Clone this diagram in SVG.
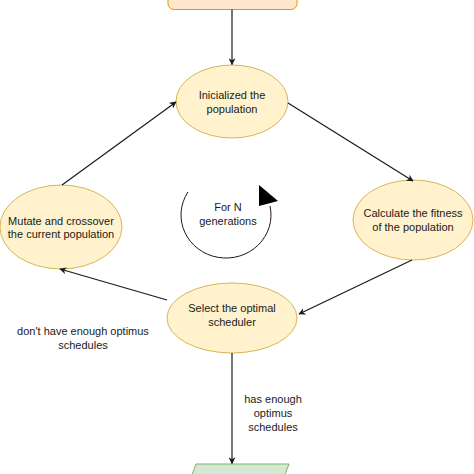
<svg xmlns="http://www.w3.org/2000/svg" width="474" height="474" viewBox="0 0 474 474">
<style>
.ell{fill:#fff2cc;stroke:#d6b656;stroke-width:1}
.t{font-family:"Liberation Sans",Arial,sans-serif;font-size:11px;fill:#1a1a1a;text-anchor:middle}
.c{fill:none;stroke:#1a1a1a;stroke-width:1.2}
</style>
<defs>
<marker id="ah" viewBox="0 0 10 10" refX="9" refY="5" markerWidth="7" markerHeight="7" orient="auto" markerUnits="userSpaceOnUse">
<path d="M0,0 L10,5 L0,10 L3,5 Z" fill="#1a1a1a"/>
</marker>
</defs>
<rect width="474" height="474" fill="#ffffff"/>
<g id="start"><rect x="168" y="-10" width="129" height="19.5" rx="6" fill="#ffe6cc" stroke="#d79b00"/></g>
<g id="init"><ellipse class="ell" cx="232" cy="101.5" rx="56" ry="36.5"/><text class="t" x="232" y="99">Inicialized the</text><text class="t" x="232" y="113">population</text></g>
<g id="calc"><ellipse class="ell" cx="413" cy="220" rx="60" ry="40"/><text class="t" x="413" y="217">Calculate the fitness</text><text class="t" x="413" y="231">of the population</text></g>
<g id="select"><ellipse class="ell" cx="232" cy="318" rx="65" ry="35"/><text class="t" x="232" y="312">Select the optimal</text><text class="t" x="232" y="326">scheduler</text></g>
<g id="mutate"><ellipse class="ell" cx="61" cy="227" rx="61" ry="42"/><text class="t" x="61" y="225">Mutate and crossover</text><text class="t" x="61" y="238">the current population</text></g>
<g id="end"><polygon points="196,464 289,464 283,480 190,480" fill="#d5e8d4" stroke="#82b366"/></g>
<g id="loop">
<path d="M188,192 A45,43 0 1,0 270,206" fill="none" stroke="#1a1a1a" stroke-width="1"/>
<polygon points="259,185 259,206 278,201" fill="#000"/>
<text class="t" x="228" y="211">For N</text><text class="t" x="228" y="225">generations</text>
</g>
<g id="connectors">
<line class="c" x1="232" y1="9.5" x2="232" y2="64.5" marker-end="url(#ah)"/>
<line class="c" x1="288" y1="103" x2="413" y2="181" marker-end="url(#ah)"/>
<line class="c" x1="412" y1="260" x2="299" y2="314" marker-end="url(#ah)"/>
<line class="c" x1="167" y1="300" x2="60" y2="269" marker-end="url(#ah)"/>
<line class="c" x1="62" y1="185" x2="176" y2="102" marker-end="url(#ah)"/>
<line class="c" x1="232" y1="353" x2="232" y2="463.5" marker-end="url(#ah)"/>
<text class="t" x="83" y="335">don't have enough optimus</text><text class="t" x="83" y="349">schedules</text>
<text class="t" x="273" y="403">has enough</text><text class="t" x="273" y="417">optimus</text><text class="t" x="273" y="431">schedules</text>
</g>
</svg>
